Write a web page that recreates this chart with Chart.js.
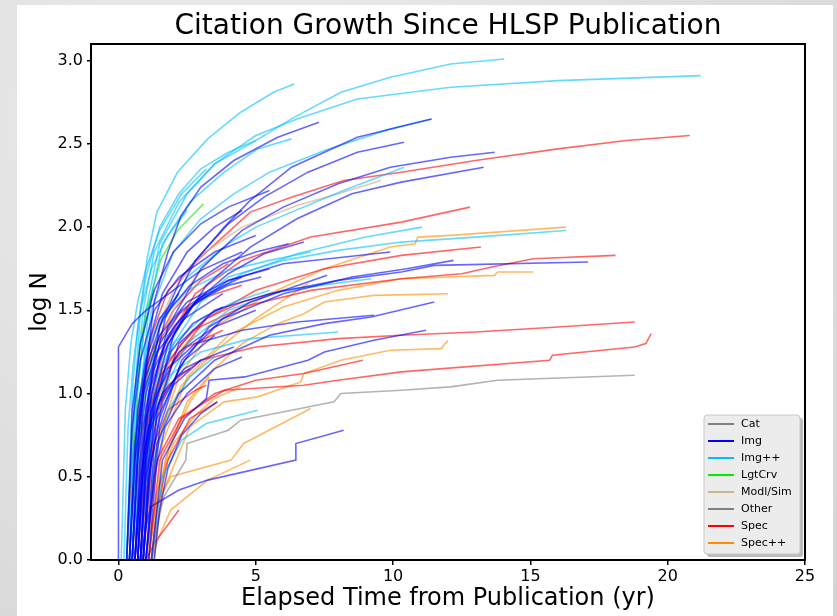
<!DOCTYPE html>
<html>
<head>
<meta charset="utf-8">
<script src="https://cdn.jsdelivr.net/npm/chart.js@4.4.1/dist/chart.umd.min.js"></script>
<style>
  html, body { margin: 0; padding: 0; }
  body {
    width: 837px; height: 616px; overflow: hidden; position: relative;
    background: radial-gradient(ellipse at 30% 20%, #ececec 0%, #dedede 60%, #d4d4d4 100%);
  }
  #painel { position: absolute; left: 17px; top: 5px; width: 816px; height: 620px; background: #fff; }
  #grafico { position: absolute; left: 0; top: 0; }
</style>
</head>
<body>
<div id="painel"></div>
<canvas id="grafico" width="837" height="616"></canvas>
<script>
// === CATEGORIAS (legenda) ===
const categorias = ['Cat', 'Img', 'Img++', 'LgtCrv', 'Modl/Sim', 'Other', 'Spec', 'Spec++'];
const coresCat   = ['#808080', '#0000ff', '#00bfff', '#00ee00', '#d2b48c', '#808080', '#ff0000', '#ff8c00'];
const coresLinha = ['rgba(128,128,128,0.6)', 'rgba(0,0,255,0.6)', 'rgba(0,191,255,0.6)', 'rgba(0,230,0,0.6)',
                    'rgba(210,180,140,0.7)', 'rgba(128,128,128,0.6)', 'rgba(255,0,0,0.6)', 'rgba(255,140,0,0.6)'];

// === CURVAS: [anos, log N] ===
const catLinhas = [];

const imgLinhas = [
  [[0.6,0],[0.9,1.0],[1.3,1.55],[1.8,1.85],[2.26,2.06],[3.0,2.24],[4.2,2.4],[5.8,2.54],[7.3,2.63]],
  [[0.7,0],[1.0,0.9],[1.5,1.4],[2.3,1.7],[3.85,2.0],[4.8,2.16],[6.3,2.36],[8.7,2.54],[11.4,2.65]],
  [[0.8,0],[1.1,1.0],[1.7,1.45],[2.8,1.8],[4,2.02],[5.3,2.18],[6.9,2.33],[8.7,2.45],[10.4,2.51]],
  [[0.8,0],[1.2,1.0],[1.8,1.4],[3,1.75],[4.5,1.98],[6,2.12],[8,2.26],[9.9,2.36],[12.1,2.42],[13.7,2.45]],
  [[0.9,0],[1.3,0.9],[2,1.35],[3.2,1.65],[4.8,1.88],[6.5,2.05],[8.5,2.2],[10.3,2.27],[13.3,2.36]],
  [[0.9,0],[1.2,0.9],[1.8,1.3],[2.8,1.55],[4,1.72],[5.3,1.84],[6.75,1.91]],
  [[1.0,0],[1.4,0.9],[2.2,1.3],[3.5,1.5],[5.5,1.6],[8,1.68],[10.3,1.73],[11.5,1.77],[17.1,1.79]],
  [[1.1,0],[1.5,0.8],[2.3,1.2],[3.8,1.45],[6,1.6],[8.5,1.7],[10.5,1.75],[12.2,1.8]],
  [[1.0,0],[1.4,0.7],[2.2,1.0],[3.5,1.2],[5.5,1.35],[7.5,1.42],[9.2,1.46],[11.5,1.55]],
  [[1.2,0],[1.6,0.6],[2.4,0.85],[3.2,0.97],[3.3,1.08],[4.6,1.1],[6.9,1.2],[7.5,1.25],[9.3,1.32],[11.2,1.38]],
  [[0.8,0],[1.0,0.2],[1.17,0.32],[2.2,0.42],[3.25,0.48],[6.46,0.6],[6.46,0.7],[8.2,0.78]],
  [[0,0],[0,1.28],[0.5,1.42],[1.0,1.5],[2,1.62],[3,1.74],[4.5,1.85]],
  [[0.3,0],[0.5,0.8],[0.8,1.2],[1.3,1.5],[2.2,1.7],[3.5,1.85],[5,1.95]],
  [[0.5,0],[0.7,0.7],[1.0,1.1],[1.5,1.35],[2.5,1.55],[4,1.68],[5.5,1.75]],
  [[0.6,0],[0.9,0.8],[1.3,1.15],[2,1.4],[3,1.58],[4.5,1.7]],
  [[0.4,0],[0.6,0.6],[0.9,1.0],[1.4,1.25],[2.4,1.45],[3.8,1.6]],
  [[0.7,0],[1.0,0.7],[1.4,1.0],[2.2,1.25],[3.5,1.4],[5,1.5]],
  [[0.5,0],[0.8,0.9],[1.1,1.3],[1.6,1.6],[2.5,1.85],[3.5,2.0],[4.5,2.1]],
  [[0.9,0],[1.2,0.6],[1.6,0.95],[2.4,1.2],[3.5,1.35]],
  [[0.8,0],[1.0,0.5],[1.4,0.85],[2,1.05],[3,1.2],[4.2,1.28]],
  [[0.3,0],[0.5,0.9],[0.8,1.3],[1.3,1.62],[2,1.85],[3,2.02],[4,2.12],[5.5,2.22]],
  [[1.0,0],[1.3,0.5],[1.7,0.8],[2.5,1.0],[3.5,1.15],[4.5,1.22]],
  [[0.6,0],[0.8,0.5],[1.1,0.8],[1.6,1.0],[2.4,1.15],[3.0,1.2]],
  [[0.4,0],[0.6,0.7],[1.0,1.15],[1.6,1.45],[2.6,1.65],[3.8,1.78],[5,1.85],[6.2,1.9]],
  [[1.3,0],[1.5,0.3],[1.8,0.55],[2.3,0.75],[3,0.88],[3.6,0.95]],
  [[0.9,0],[1.1,0.5],[1.5,0.85],[2.2,1.15],[3.3,1.4],[4.8,1.55],[7.6,1.71]],
  [[0.7,0],[1.0,0.85],[1.5,1.2],[2.5,1.5],[4,1.68],[6,1.78],[9.9,1.85]],
  [[0.6,0],[0.9,0.6],[1.2,0.9],[1.8,1.15],[2.8,1.3],[4.5,1.38],[6.5,1.43],[9.3,1.47]],
  [[0.5,0],[0.7,0.6],[1.0,1.0],[1.5,1.3],[2.3,1.5],[3.2,1.6]],
  [[0.7,0],[0.9,0.7],[1.2,1.05],[1.8,1.35],[2.8,1.55],[4,1.65],[5.2,1.7]],
  [[0.4,0],[0.7,0.9],[1.0,1.2],[1.5,1.45],[2.2,1.6]],
  [[0.8,0],[1.0,0.6],[1.3,0.95],[1.9,1.25],[2.7,1.42],[3.8,1.52]],
  [[0.6,0],[0.8,0.4],[1.1,0.75],[1.5,0.95],[2.1,1.1],[2.6,1.15]]
];

const imgppLinhas = [
  [[0.5,0],[0.7,1.0],[1.0,1.5],[1.5,1.9],[2.5,2.2],[3.5,2.38],[4.8,2.5],[6.3,2.65],[8.1,2.81],[9.9,2.9],[12.1,2.98],[14.05,3.01]],
  [[0.4,0],[0.6,1.0],[0.9,1.5],[1.3,1.85],[2.2,2.15],[3.5,2.38],[5,2.55],[6.5,2.65],[8.7,2.77],[12.1,2.84],[16,2.88],[21.2,2.91]],
  [[0.4,0],[0.6,1.0],[0.8,1.5],[1.05,1.82],[1.4,2.09],[2.15,2.33],[3.25,2.53],[4.45,2.69],[5.65,2.81],[6.4,2.86]],
  [[0.6,0],[0.8,1.0],[1.1,1.5],[1.6,1.9],[2.6,2.15],[3.85,2.33],[5.07,2.47],[6.3,2.53]],
  [[0.5,0],[0.8,1.0],[1.2,1.5],[2,1.85],[3,2.05],[4.2,2.2],[5.5,2.33],[7.5,2.46],[9.9,2.59],[11.4,2.65]],
  [[0.7,0],[1.0,1.0],[1.5,1.4],[2.5,1.7],[4,1.9],[5,2.0],[6.3,2.09],[8.2,2.22],[10.4,2.36]],
  [[0.9,0],[1.3,0.9],[2,1.3],[3,1.55],[4.5,1.72],[6.5,1.84],[9,1.94],[11.05,2.0]],
  [[0.8,0],[1.1,0.8],[1.6,1.2],[2.5,1.5],[4,1.7],[6,1.8],[8,1.86],[10.3,1.91],[13,1.94],[16.3,1.98]],
  [[0.9,0],[1.2,0.8],[1.8,1.1],[3,1.25],[4.8,1.33],[8.0,1.37]],
  [[1.2,0],[1.6,0.5],[2.3,0.72],[3.2,0.82],[5.07,0.9]],
  [[0.2,0],[0.35,0.8],[0.55,1.2],[0.8,1.5],[1.2,1.75],[1.8,1.95],[2.5,2.1]],
  [[0.3,0],[0.5,1.0],[0.7,1.4],[1.0,1.7],[1.5,2.0],[2.2,2.2],[3,2.35],[4,2.45],[5,2.52]],
  [[0.7,0],[1.0,0.8],[1.4,1.1],[2,1.3],[3,1.45],[4.2,1.55],[5.5,1.62]],
  [[1.0,0],[1.3,0.6],[1.8,0.9],[2.6,1.1],[3.5,1.22]],
  [[0.5,0],[0.7,0.9],[1.0,1.25],[1.5,1.45],[2.5,1.62],[4,1.74],[5.5,1.8],[7.0,1.85]],
  [[0.8,0],[1.1,0.7],[1.6,1.0],[2.5,1.3],[4,1.5],[6,1.62],[9.2,1.69]],
  [[0.1,0],[0.25,0.9],[0.45,1.3],[0.7,1.55],[1.0,1.75],[1.5,1.98],[2.3,2.2],[3.2,2.35]]
];

const lgtLinhas = [
  [[0.4,0],[0.55,0.6],[0.7,1.06],[0.9,1.34],[1.17,1.58],[1.53,1.8],[2.15,1.98],[3.1,2.14]],
  [[0.3,0],[0.45,0.6],[0.6,1.0],[0.8,1.3],[1.0,1.5],[1.3,1.62]],
  [[0.5,0],[0.65,0.5],[0.85,0.9],[1.1,1.15],[1.4,1.32]]
];

const modlLinhas = [
  [[0.6,0],[0.9,0.9],[1.3,1.35],[2,1.62],[3,1.83],[4.5,2.0],[6.5,2.13],[8,2.2],[9.56,2.28]],
  [[0.6,0],[0.9,0.8],[1.3,1.2],[2,1.5],[2.8,1.7],[3.6,1.85]]
];

const otherLinhas = [
  [[1.2,0],[1.4,0.2],[1.65,0.38],[2.45,0.6],[2.5,0.7],[4.0,0.78],[4.45,0.84],[6.3,0.9],[7.85,0.95],[8.1,1.0],[10.3,1.02],[12.1,1.04],[13.8,1.08],[18.8,1.11]]
];

const specLinhas = [
  [[0.5,0],[0.8,0.9],[1.2,1.35],[1.8,1.62],[3.0,1.82],[4.8,2.09],[6.3,2.18],[8.2,2.28],[10.3,2.33],[13,2.4],[16,2.47],[18.5,2.52],[20.8,2.55]],
  [[0.8,0],[1.1,0.9],[1.7,1.3],[2.8,1.6],[4.5,1.8],[7,1.94],[10.3,2.03],[12.8,2.12]],
  [[0.9,0],[1.3,0.8],[2,1.2],[3.2,1.45],[5,1.62],[7.5,1.75],[10.3,1.83],[13.2,1.88]],
  [[0.7,0],[1.0,0.8],[1.6,1.15],[2.7,1.38],[4.5,1.52],[7,1.62],[10.3,1.69],[12.5,1.72],[13.6,1.76],[15.1,1.81],[18.1,1.83]],
  [[0.9,0],[1.2,0.8],[1.8,1.05],[3,1.2],[5,1.28],[8,1.33],[10.3,1.35],[13,1.37],[16,1.4],[18.8,1.43]],
  [[1.0,0],[1.4,0.6],[2.2,0.85],[3.85,1.02],[6.75,1.05],[8,1.08],[10.3,1.13],[15.7,1.2],[15.8,1.23],[18.8,1.28],[19.2,1.3],[19.4,1.36]],
  [[1.1,0],[1.5,0.6],[2.3,0.85],[3.5,1.0],[5,1.08],[6.75,1.12],[8.9,1.2]],
  [[1.0,0],[1.3,0.1],[2.2,0.3]],
  [[0.4,0],[0.6,0.7],[0.9,1.05],[1.4,1.3],[2.2,1.48],[3.2,1.58],[4.5,1.65]],
  [[0.6,0],[0.8,0.6],[1.1,0.9],[1.6,1.12],[2.5,1.28],[3.8,1.38]],
  [[0.5,0],[0.7,0.5],[1.0,0.85],[1.5,1.1],[2.3,1.3],[3.2,1.45],[4.5,1.55],[6,1.62]],
  [[0.8,0],[1.0,0.4],[1.3,0.7],[1.8,0.9],[2.8,1.02],[3.2,1.05]],
  [[0.3,0],[0.5,0.6],[0.8,1.0],[1.2,1.25],[2,1.5],[3,1.68],[4,1.78]],
  [[1.2,0],[1.4,0.3],[1.8,0.6],[2.6,0.85],[3.6,0.95]]
];

const specppLinhas = [
  [[1.0,0],[1.4,0.7],[2.2,1.1],[3.5,1.4],[5.5,1.6],[7.5,1.75],[9.9,1.88],[10.8,1.9],[10.9,1.94],[12.1,1.95],[16.3,2.0]],
  [[1.2,0],[1.6,0.7],[2.5,1.1],[4,1.35],[6,1.52],[8,1.62],[10.3,1.69],[13.7,1.71],[13.8,1.73],[15.1,1.73]],
  [[1.3,0],[1.7,0.6],[2.5,0.95],[3.5,1.15],[4.5,1.3],[5.8,1.42],[6.75,1.48],[7.5,1.55],[9.3,1.59],[12.0,1.6]],
  [[1.2,0],[1.6,0.4],[2.6,0.8],[3.25,0.88],[3.85,0.95],[5.07,0.98],[6.64,1.07],[6.75,1.12],[8.1,1.2],[9.9,1.26],[11.75,1.27],[12.0,1.32]],
  [[1.0,0],[1.3,0.3],[1.9,0.5],[4.1,0.6],[4.56,0.7],[7.0,0.91]],
  [[1.2,0],[1.5,0.15],[1.9,0.3],[3.25,0.48],[4.8,0.6]],
  [[1.1,0],[1.4,0.4],[2,0.7],[2.8,0.87],[3.5,0.97],[4.45,1.04]],
  [[0.9,0],[1.2,0.5],[1.6,0.8],[2.3,1.05],[3.5,1.25],[5,1.45],[6.9,1.66]],
  [[1.1,0],[1.4,0.4],[1.9,0.7],[2.6,0.95],[3.3,1.1]],
  [[0.7,0],[1.0,0.6],[1.4,0.95],[2,1.2],[2.8,1.35]]
];

// === EIXOS ===
const ticksX = [0, 5, 10, 15, 20, 25];
const ticksY = [0.0, 0.5, 1.0, 1.5, 2.0, 2.5, 3.0];

const fonte = "'DejaVu Sans', sans-serif";
Chart.defaults.font.family = fonte;
Chart.defaults.color = '#000';

// monta os datasets, uma linha por curva
const grupos = [catLinhas, imgLinhas, imgppLinhas, lgtLinhas, modlLinhas, otherLinhas, specLinhas, specppLinhas];
const datasets = [];
grupos.forEach((linhas, i) => {
  linhas.forEach(pts => {
    datasets.push({
      label: categorias[i],
      data: pts.map(p => ({ x: p[0], y: p[1] })),
      borderColor: coresLinha[i],
      borderWidth: 1.6,
      pointRadius: 0,
      tension: 0,
      fill: false
    });
  });
});

// moldura do gráfico + legenda desenhada à mão (estilo matplotlib)
const moldura = {
  id: 'moldura',
  afterDraw(chart) {
    const { ctx, chartArea: a } = chart;
    ctx.save();
    ctx.strokeStyle = '#000';
    ctx.lineWidth = 2;
    ctx.strokeRect(a.left, a.top, a.right - a.left, a.bottom - a.top);

    // caixa da legenda
    const bx = 704, by = 415, bw = 96, bh = 139;
    ctx.fillStyle = 'rgba(120,120,120,0.5)';
    ctx.beginPath(); ctx.roundRect(bx + 3, by + 3, bw, bh, 3); ctx.fill();
    ctx.fillStyle = '#ececec';
    ctx.strokeStyle = '#c8c8c8';
    ctx.lineWidth = 1;
    ctx.beginPath(); ctx.roundRect(bx, by, bw, bh, 3); ctx.fill(); ctx.stroke();

    ctx.font = '11px ' + fonte;
    ctx.textBaseline = 'middle';
    categorias.forEach((nome, i) => {
      const y = by + 9 + i * 17;
      ctx.strokeStyle = coresCat[i];
      ctx.lineWidth = 2;
      ctx.beginPath(); ctx.moveTo(bx + 4, y); ctx.lineTo(bx + 30, y); ctx.stroke();
      ctx.fillStyle = '#000';
      ctx.fillText(nome, bx + 37, y);
    });
    ctx.restore();
  }
};

new Chart(document.getElementById('grafico'), {
  type: 'line',
  data: { datasets },
  options: {
    responsive: false,
    animation: false,
    events: [],
    layout: { padding: { left: 20, right: 32, top: 6, bottom: 0 } },
    plugins: {
      legend: { display: false },
      tooltip: { enabled: false },
      title: {
        display: true,
        fullSize: false,
        text: 'Citation Growth Since HLSP Publication',
        font: { size: 28, weight: 'normal', lineHeight: 1.0 },
        padding: { top: 7, bottom: 3 },
        color: '#000'
      }
    },
    scales: {
      x: {
        type: 'linear',
        min: -1,
        max: 25,
        afterBuildTicks: s => { s.ticks = ticksX.map(v => ({ value: v })); },
        afterFit: s => { s.height = 56; },
        ticks: { font: { size: 16 }, padding: 2, maxRotation: 0 },
        grid: { display: true, drawOnChartArea: false, drawTicks: true, tickLength: 5, color: '#000', lineWidth: 1.5 },
        border: { display: false },
        title: { display: true, text: 'Elapsed Time from Publication (yr)', font: { size: 24 }, padding: { top: 0, bottom: 3 } }
      },
      y: {
        min: 0,
        max: 3.1,
        afterBuildTicks: s => { s.ticks = ticksY.map(v => ({ value: v })); },
        afterFit: s => { s.width = 71; },
        ticks: { font: { size: 16 }, padding: 4, callback: v => v.toFixed(1) },
        grid: { display: true, drawOnChartArea: false, drawTicks: true, tickLength: 4, color: '#000', lineWidth: 1.5 },
        border: { display: false },
        title: { display: true, text: 'log N', font: { size: 23 }, padding: { top: 6, bottom: 0 } }
      }
    }
  },
  plugins: [moldura]
});
</script>
</body>
</html>
